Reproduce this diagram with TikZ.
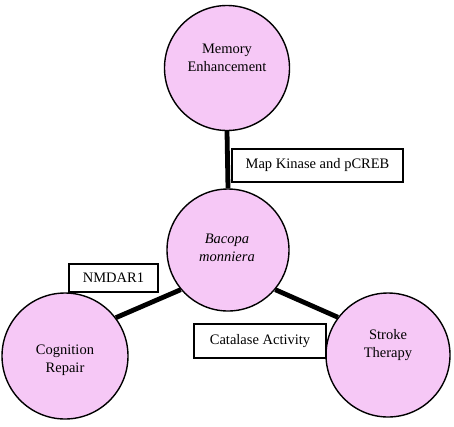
\documentclass[tikz,border=0pt]{standalone}
\usepackage{fontspec}
\setmainfont{Liberation Serif}
\definecolor{pinkfill}{RGB}{246,200,246}
\pgfdeclarelayer{background}
\pgfsetlayers{background,main}
\begin{document}
\begin{tikzpicture}[x=1pt,y=-1pt,
  bubble/.style={circle,draw=black,line width=1.4pt,fill=pinkfill,minimum size=#1,inner sep=0pt},
  txt/.style={align=center,inner sep=0pt,font=\fontsize{14.5}{17.5}\selectfont},
  labelbox/.style={draw=black,line width=1.2pt,fill=white,inner sep=0pt,font=\fontsize{14.5}{17}\selectfont},
  link/.style={line width=4.8pt}]
\useasboundingbox (0,0) rectangle (454,426);
\node[bubble=125pt] (mem) at (227,68) {};
\node[bubble=122pt] (bac) at (228,250) {};
\node[bubble=126pt] (cog) at (65,356) {};
\node[bubble=124pt] (str) at (388,355) {};
\node[txt] (memt) at (227,58) {Memory\\Enhancement};
\node[txt] (bact) at (227,248) {\itshape Bacopa\\\itshape monniera};
\node[txt] (cogt) at (65,360) {Cognition\\Repair};
\node[txt] (strt) at (388,345) {Stroke\\Therapy};
\begin{pgfonlayer}{background}
\draw[link] (mem.south) -- (bac.north);
\draw[link] (bac.220) -- (cog.37);
\draw[link] (bac.320) -- (str.143);
\end{pgfonlayer}
\node[labelbox,minimum width=171pt,minimum height=33pt] (mk) at (317.5,165.5) {Map Kinase and pCREB};
\node[labelbox,minimum width=89pt,minimum height=28pt] (nm) at (113.5,278) {NMDAR1};
\node[labelbox,minimum width=132pt,minimum height=34pt] (ca) at (260,341) {Catalase Activity};
\end{tikzpicture}
\end{document}
